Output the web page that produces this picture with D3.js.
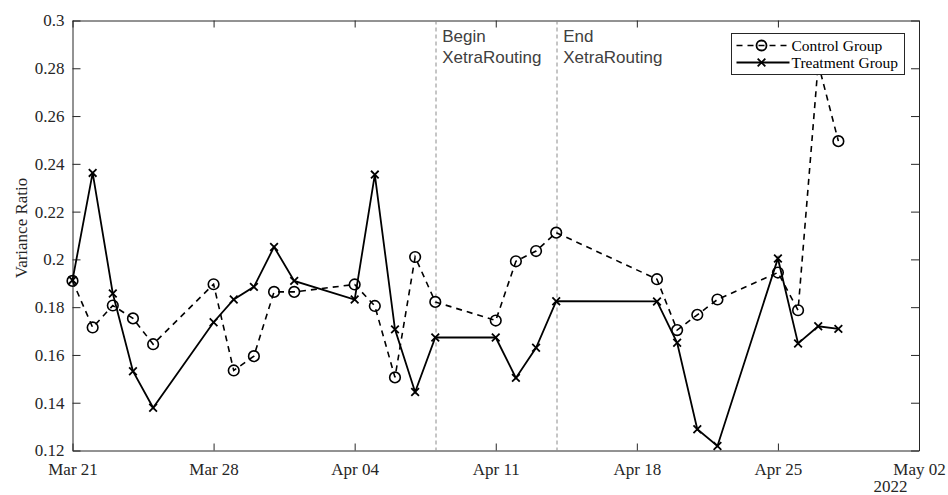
<!DOCTYPE html>
<html>
<head>
<meta charset="utf-8">
<script src="https://cdn.jsdelivr.net/npm/d3@7"></script>
<style>
  body { margin: 0; background: #fff; }
  svg { display: block; }
  .serif { font-family: 'Liberation Serif', 'Times New Roman', Times, 'DejaVu Serif', serif; }
  .axis text { font-family: 'Liberation Serif', 'Times New Roman', Times, 'DejaVu Serif', serif; font-size: 17px; fill: #262626; }
  .axis path, .axis line { stroke: #262626; }
</style>
</head>
<body>
<svg id="svg" width="948" height="495"></svg>
<script>
const dates = ['2022-03-21', '2022-03-22', '2022-03-23', '2022-03-24', '2022-03-25',
  '2022-03-28', '2022-03-29', '2022-03-30', '2022-03-31', '2022-04-01',
  '2022-04-04', '2022-04-05', '2022-04-06', '2022-04-07', '2022-04-08',
  '2022-04-11', '2022-04-12', '2022-04-13', '2022-04-14',
  '2022-04-19', '2022-04-20', '2022-04-21', '2022-04-22',
  '2022-04-25', '2022-04-26', '2022-04-27', '2022-04-28']

const controlValues = [0.191, 0.1715, 0.1807, 0.1753, 0.1645,
  0.1896, 0.1535, 0.1595, 0.1864, 0.1864,
  0.1895, 0.1805, 0.1506, 0.201, 0.1822,
  0.1744, 0.1992, 0.2035, 0.2112,
  0.1917, 0.1704, 0.1768, 0.1832,
  0.1945, 0.1787, 0.282, 0.2495]

const treatmentValues = [0.1913, 0.2362, 0.1857, 0.1532, 0.1379,
  0.1737, 0.1832, 0.1885, 0.2052, 0.191,
  0.1832, 0.2355, 0.1707, 0.1445, 0.1673,
  0.1673, 0.1504, 0.163, 0.1825,
  0.1824, 0.1651, 0.1289, 0.1219,
  0.2004, 0.1648, 0.172, 0.1709]

const yTicks = [0.12, 0.14, 0.16, 0.18, 0.2, 0.22, 0.24, 0.26, 0.28, 0.3]
const xTicks = ['2022-03-21', '2022-03-28', '2022-04-04', '2022-04-11', '2022-04-18', '2022-04-25', '2022-05-02']
const events = [{ date: '2022-04-08', label: ['Begin', 'XetraRouting'] },
  { date: '2022-04-14', label: ['End', 'XetraRouting'] }]

const parse = d3.timeParse('%Y-%m-%d')
const margin = { top: 20.5, right: 29, bottom: 44.5, left: 72.5 }
const width = 948 - margin.left - margin.right
const height = 495 - margin.top - margin.bottom

const svg = d3.select('#svg')
const g = svg.append('g').attr('transform', `translate(${margin.left}, ${margin.top})`)

const xscale = d3.scaleTime()
  .domain([parse('2022-03-21'), parse('2022-05-02')])
  .range([0, width])

const yscale = d3.scaleLinear()
  .domain([0.12, 0.3])
  .range([height, 0])

const xTickDates = xTicks.map(parse)
const yFormat = d => String(+d.toFixed(2))

// axes, ticks point inwards on all four sides
g.append('g').attr('class', 'axis')
  .attr('transform', `translate(0, ${height})`)
  .call(d3.axisBottom(xscale).tickValues(xTickDates).tickFormat(d3.timeFormat('%b %d'))
    .tickSizeInner(-7).tickSizeOuter(0).tickPadding(12))
g.append('g').attr('class', 'axis')
  .call(d3.axisTop(xscale).tickValues(xTickDates).tickFormat('')
    .tickSizeInner(-7).tickSizeOuter(0))
g.append('g').attr('class', 'axis')
  .call(d3.axisLeft(yscale).tickValues(yTicks).tickFormat(yFormat)
    .tickSizeInner(-8).tickSizeOuter(0).tickPadding(8))
g.append('g').attr('class', 'axis')
  .attr('transform', `translate(${width}, 0)`)
  .call(d3.axisRight(yscale).tickValues(yTicks).tickFormat('')
    .tickSizeInner(-8).tickSizeOuter(0))

g.selectAll('.axis').attr('font-family', null)
g.selectAll('.axis .domain').attr('stroke-width', 1)

// year under the last tick
g.append('text')
  .attr('class', 'serif')
  .attr('x', 818).attr('y', 471)
  .attr('font-size', 17)
  .attr('fill', '#262626').attr('text-anchor', 'middle')
  .text('2022')

// y label
svg.append('text')
  .attr('class', 'serif')
  .attr('transform', 'translate(27, 228) rotate(-90)')
  .attr('font-size', 17)
  .attr('fill', '#262626').attr('text-anchor', 'middle')
  .text('Variance Ratio')

// event markers
const ev = g.selectAll('.event').data(events).enter().append('g').attr('class', 'event')
ev.append('line')
  .attr('x1', d => Math.round(xscale(parse(d.date))) + 0.5)
  .attr('x2', d => Math.round(xscale(parse(d.date))) + 0.5)
  .attr('y1', 0).attr('y2', height)
  .attr('stroke', '#8c8c8c').attr('stroke-width', 1).attr('stroke-dasharray', '4,3')
ev.append('text')
  .attr('x', d => xscale(parse(d.date)) + 7)
  .attr('font-family', 'Liberation Sans, Arial, sans-serif').attr('font-size', 17)
  .attr('fill', '#404040')
  .selectAll('tspan').data(d => d.label).enter().append('tspan')
  .attr('x', function () { return this.parentNode.getAttribute('x') })
  .attr('y', (d, i) => 21 + i * 21.5)
  .text(d => d)

const controlData = dates.map((d, i) => ({ date: parse(d), value: controlValues[i] }))
const treatmentData = dates.map((d, i) => ({ date: parse(d), value: treatmentValues[i] }))

const line = d3.line().x(d => xscale(d.date)).y(d => yscale(d.value))

// control group: dashed line with open circles
g.append('path').datum(controlData)
  .attr('d', line).attr('fill', 'none')
  .attr('stroke', '#000').attr('stroke-width', 1.6).attr('stroke-dasharray', '6,5')
g.selectAll('.ctrl').data(controlData).enter().append('circle')
  .attr('class', 'ctrl')
  .attr('cx', d => xscale(d.date)).attr('cy', d => yscale(d.value))
  .attr('r', 5.3).attr('fill', 'none').attr('stroke', '#000').attr('stroke-width', 1.6)

// treatment group: solid line with x markers
const cross = d3.symbol().type(d3.symbolX).size(40)
g.append('path').datum(treatmentData)
  .attr('d', line).attr('fill', 'none')
  .attr('stroke', '#000').attr('stroke-width', 1.8)
g.selectAll('.treat').data(treatmentData).enter().append('path')
  .attr('class', 'treat')
  .attr('transform', d => `translate(${xscale(d.date)}, ${yscale(d.value)})`)
  .attr('d', cross).attr('fill', 'none').attr('stroke', '#000').attr('stroke-width', 1.8)

// legend
const legend = svg.append('g').attr('transform', 'translate(731.5, 33.5)')
legend.append('rect')
  .attr('width', 173).attr('height', 41)
  .attr('fill', '#fff').attr('stroke', '#262626').attr('stroke-width', 1)
legend.append('line')
  .attr('x1', 5).attr('x2', 58).attr('y1', 12).attr('y2', 12)
  .attr('stroke', '#000').attr('stroke-width', 1.6).attr('stroke-dasharray', '6,5')
legend.append('circle')
  .attr('cx', 30).attr('cy', 12).attr('r', 5)
  .attr('fill', 'none').attr('stroke', '#000').attr('stroke-width', 1.8)
legend.append('line')
  .attr('x1', 5).attr('x2', 58).attr('y1', 29).attr('y2', 29)
  .attr('stroke', '#000').attr('stroke-width', 1.8)
legend.append('path')
  .attr('transform', 'translate(30, 29)')
  .attr('d', cross).attr('fill', 'none').attr('stroke', '#000').attr('stroke-width', 1.8)
legend.selectAll('.lab').data(['Control Group', 'Treatment Group']).enter().append('text')
  .attr('class', 'lab serif')
  .attr('x', 60).attr('y', (d, i) => 17 + i * 17)
  .attr('font-size', 15.5)
  .attr('fill', '#000')
  .text(d => d)
</script>
</body>
</html>
